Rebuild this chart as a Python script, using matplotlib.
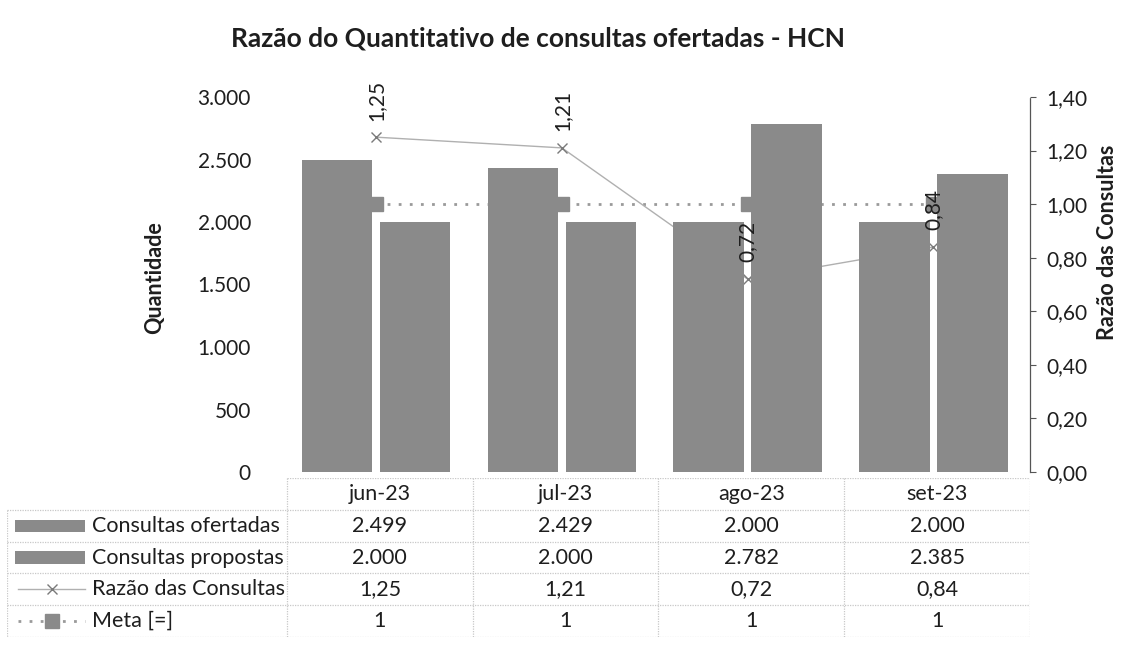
import matplotlib
matplotlib.use("Agg")
import matplotlib.pyplot as plt
from matplotlib.lines import Line2D
from matplotlib.patches import Rectangle
import numpy as np

plt.rcParams['font.family'] = ['Lato', 'DejaVu Sans']

# ---- data ----
meses = ["jun-23", "jul-23", "ago-23", "set-23"]
ofertadas = [2499, 2429, 2000, 2000]
propostas = [2000, 2000, 2782, 2385]
razao = [1.25, 1.21, 0.72, 0.84]
meta = [1, 1, 1, 1]

serie_nomes = ["Consultas ofertadas", "Consultas propostas",
               "Razão das Consultas", "Meta [=]"]
left_ticks = [0, 500, 1000, 1500, 2000, 2500, 3000]
right_ticks = [0.0, 0.2, 0.4, 0.6, 0.8, 1.0, 1.2, 1.4]


def fmt_milhar(v):
    return f"{v:,.0f}".replace(",", ".")


def fmt_dec(v):
    return f"{v:.2f}".replace(".", ",")


W, H = 1128, 657
fig = plt.figure(figsize=(W / 100, H / 100), dpi=100)

BAR_COLOR = "#8a8a8a"
LINE_COLOR = "#b0b0b0"
MARK_COLOR = "#8a8a8a"
GRID_COLOR = "#c8c8c8"
TXT = "#1e1e1e"

# plot area (pixel geometry)
px_l, px_r, px_t, px_b = 287, 1030, 97, 472
ax = fig.add_axes([px_l / W, 1 - px_b / H, (px_r - px_l) / W, (px_b - px_t) / H])
ax2 = ax.twinx()

x = np.arange(len(meses))
bw = 0.38
off = 0.21

# lines sit behind the bars
ax2.set_zorder(0)
ax.set_zorder(1)
ax.patch.set_visible(False)

ax.bar(x - off, ofertadas, width=bw, color=BAR_COLOR, zorder=2)
ax.bar(x + off, propostas, width=bw, color=BAR_COLOR, zorder=2)

ax2.plot(x, meta, linestyle=(0, (1, 3)), color="#9a9a9a", lw=2.0,
         marker="s", markersize=9.5, markerfacecolor=MARK_COLOR,
         markeredgecolor=MARK_COLOR)
ax2.plot(x, razao, linestyle="-", color=LINE_COLOR, lw=1.0,
         marker="x", markersize=7, markeredgecolor="#7a7a7a", markeredgewidth=1.0)

# categories sit a little left of the column centres
xl = (-0.48, len(meses) - 0.48)
ax.set_xlim(*xl)
ax.set_ylim(0, 3000)
ax2.set_ylim(0, 1.4)

FS = 15

# value labels of the ratio, drawn above the bars
for xi, v in zip(x, razao):
    ax.annotate(fmt_dec(v), xy=(xi, v), xycoords=ax2.transData,
                xytext=(0, 12), textcoords="offset points",
                rotation=90, ha="center", va="bottom",
                fontsize=FS, color=TXT, zorder=5)

# axes styling
ax.set_xticks([])
ax.set_yticks(left_ticks)
ax.set_yticklabels([fmt_milhar(t) for t in left_ticks], fontsize=FS, color=TXT)
ax.tick_params(axis="y", length=0, pad=26)
for s in ax.spines.values():
    s.set_visible(False)

ax2.set_yticks(right_ticks)
ax2.set_yticklabels([fmt_dec(t) for t in right_ticks], fontsize=FS, color=TXT)
ax2.tick_params(axis="y", length=4, width=0.8, color="#555555", pad=8)
for k, s in ax2.spines.items():
    s.set_visible(k == "right")
ax2.spines["right"].set_linestyle((0, (1, 1)))
ax2.spines["right"].set_color("#555555")
ax2.spines["right"].set_linewidth(0.9)

fig.text(155 / W, 1 - 278 / H, "Quantidade", rotation=90, ha="center", va="center",
         fontsize=15.5, fontweight="bold", color=TXT)
fig.text(1108 / W, 1 - 242 / H, "Razão das Consultas", rotation=90, ha="center",
         va="center", fontsize=15.5, fontweight="bold", color=TXT)
fig.text(538 / W, 1 - 38 / H, "Razão do Quantitativo de consultas ofertadas - HCN",
         ha="center", va="center", fontsize=19, fontweight="bold", color=TXT)

# ---- data table under the chart ----
t_l, t_t, t_b = 7, 478, 637
tax = fig.add_axes([t_l / W, 1 - t_b / H, (px_r - t_l) / W, (t_b - t_t) / H])
col_w = (px_r - px_l) / len(meses)
lab_w = (px_l - t_l) / col_w
tax.set_xlim(-0.5 - lab_w, len(meses) - 0.5)
nrows = 5
tax.set_ylim(nrows, 0)
tax.axis("off")

gl = dict(color=GRID_COLOR, lw=0.9, linestyle=(0, (1, 1)))
# horizontal rules
tax.plot([-0.5, len(meses) - 0.5], [0, 0], **gl)
for r in range(1, nrows + 1):
    tax.plot([-0.5 - lab_w, len(meses) - 0.5], [r, r], **gl)
# vertical rules
for c in range(len(meses) + 1):
    tax.plot([c - 0.5, c - 0.5], [0, nrows], **gl)
tax.plot([-0.5 - lab_w, -0.5 - lab_w], [1, nrows], **gl)

fs_tab = 15.5
for i, m in enumerate(meses):
    tax.text(i, 0.5, m, ha="center", va="center", fontsize=fs_tab, color=TXT)

rows = [
    [fmt_milhar(v) for v in ofertadas],
    [fmt_milhar(v) for v in propostas],
    [fmt_dec(v) for v in razao],
    [f"{v:g}" for v in meta],
]
for r, vals in enumerate(rows, start=1):
    for i, s in enumerate(vals):
        tax.text(i, r + 0.5, s, ha="center", va="center", fontsize=fs_tab, color=TXT)

# legend keys and series names
u = 1 / col_w  # data units per pixel
x0 = -0.5 - lab_w
for r, name in enumerate(serie_nomes, start=1):
    tax.text(x0 + 85 * u, r + 0.5, name, ha="left", va="center",
             fontsize=fs_tab, color=TXT)

for r in (1, 2):
    tax.add_patch(Rectangle((x0 + 8 * u, r + 0.31), 70 * u, 0.38,
                            color=BAR_COLOR, lw=0))
tax.add_line(Line2D([x0 + 11 * u, x0 + 78 * u], [3.5, 3.5], color=LINE_COLOR, lw=1.0))
tax.add_line(Line2D([x0 + 45 * u], [3.5], marker="x", markersize=7,
                    markeredgecolor="#7a7a7a", markeredgewidth=1.0, linestyle="none"))
tax.add_line(Line2D([x0 + 11 * u, x0 + 78 * u], [4.5, 4.5], color="#9a9a9a", lw=2.0,
                    linestyle=(0, (1, 3))))
tax.add_line(Line2D([x0 + 45 * u], [4.5], marker="s", markersize=9.5,
                    markerfacecolor=MARK_COLOR, markeredgecolor=MARK_COLOR,
                    linestyle="none"))

fig.savefig("out.png", dpi=100, facecolor="white")
